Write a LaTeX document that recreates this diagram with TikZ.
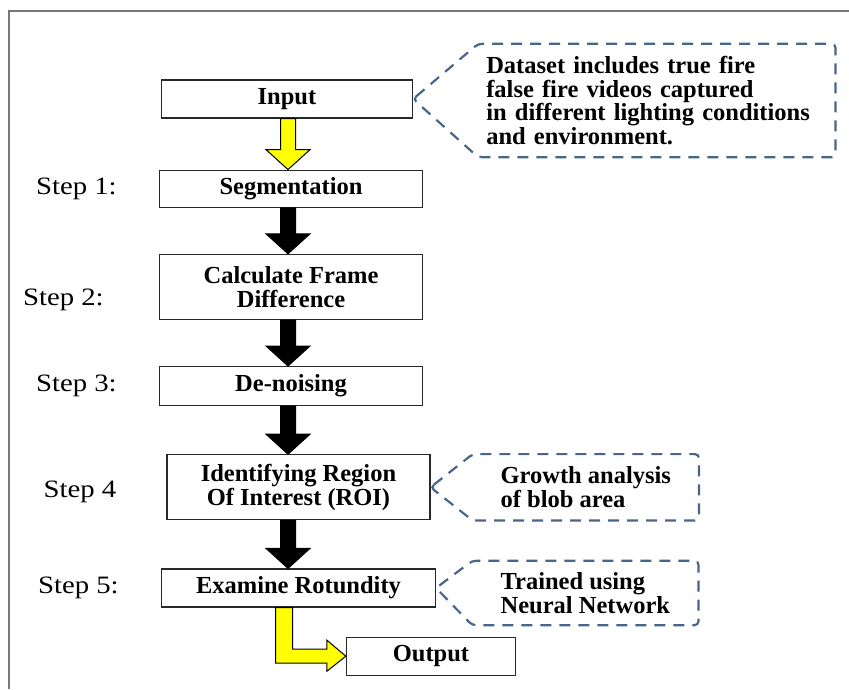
\documentclass[tikz,border=0pt]{standalone}
\usepackage{fontspec}
\setmainfont{Liberation Serif}
\newfontfamily\stepfont[FakeStretch=1.15]{Liberation Serif}
\usetikzlibrary{positioning,calc}
\definecolor{notec}{RGB}{72,102,140}
\definecolor{framec}{RGB}{120,120,120}
\definecolor{boxc}{RGB}{40,40,40}
\definecolor{fireyel}{RGB}{255,255,0}
\tikzset{stage/.style={draw=boxc,line width=1.2pt,minimum width=263pt,minimum height=38pt,align=center,inner sep=2pt,font=\fontsize{24.5}{23.5}\selectfont\bfseries},
  twoline/.style={stage,minimum height=65pt},
  steplbl/.style={inner sep=0pt,font=\stepfont\fontsize{25}{25}\selectfont},
  notebox/.style={minimum height=64pt,minimum width=226pt,align=left,inner sep=0pt,font=\fontsize{24.5}{23.5}\selectfont\bfseries},
  noteline/.style={draw=notec,line width=2.2pt,dash pattern=on 11pt off 8pt,rounded corners=4pt},
  blk/.style={fill=black,draw=black,line width=1pt,line join=miter}}
\newcommand{\stagearrow}[3]{%
  \filldraw[blk,fill=#1] ($(#2.south -| axis)+(-7.5,0)$) -- ($(#3.north -| axis)+(-7.5,-20)$) --
    ($(#3.north -| axis)+(-22,-20)$) -- (#3.north -| axis) -- ($(#3.north -| axis)+(22,-20)$) --
    ($(#3.north -| axis)+(7.5,-20)$) -- ($(#2.south -| axis)+(7.5,0)$) -- cycle;}
\begin{document}
\begin{tikzpicture}[x=1pt,y=-1pt]
\useasboundingbox (0,0) rectangle (849,689);
\draw[framec,line width=1.5pt] (9,689) -- (9,11) -- (849,11);
\coordinate (axis) at (288,0);
% main flow
\node[stage,minimum width=251pt] (input) at (287,99) {Input};
\node[stage,minimum height=37pt,below=51pt of input,xshift=4pt] (seg) {Segmentation};
\node[twoline,below=46pt of seg] (calc) {Calculate Frame\\Difference};
\node[stage,minimum height=39pt,below=46pt of calc] (denoise) {De-noising};
\node[twoline,below=48pt of denoise,xshift=7.5pt] (roi) {Identifying Region\\Of Interest (ROI)};
\node[stage,minimum width=274pt,below=48pt of roi] (exam) {Examine Rotundity};
\node[stage,minimum width=169pt,below=29pt of exam,xshift=132.5pt] (output) {Output};
% step labels
\node[steplbl,left=42pt of seg] (s1) {Step 1:};
\node[steplbl,left=55pt of calc,yshift=-13pt] (s2) {Step 2:};
\node[steplbl,left=42pt of denoise] (s3) {Step 3:};
\node[steplbl,left=50pt of roi,yshift=-5pt] (s4) {Step 4};
\node[steplbl,left=42pt of exam] (s5) {Step 5:};
% notes
\node[notebox,text width=341pt,minimum height=113pt,minimum width=357pt,inner xsep=8pt,right=65pt of input,yshift=-1.5pt] (dsnote) {Dataset includes true fire\\false fire videos captured\\in different lighting conditions\\and environment.};
\node[notebox,minimum height=66pt,right=42pt of roi] (blobnote) {Growth analysis\\of blob area};
\node[notebox,right=36pt of exam,yshift=-5pt] (nnnote) {Trained using\\Neural Network};
\draw[noteline] (input.east) -- (dsnote.north west) -- (dsnote.north east) -- (dsnote.south east) -- (dsnote.south west) -- cycle;
\draw[noteline] (roi.east) -- (blobnote.north west) -- (blobnote.north east) -- (blobnote.south east) -- (blobnote.south west) -- cycle;
\draw[noteline] (exam.east) -- (nnnote.north west) -- (nnnote.north east) -- (nnnote.south east) -- (nnnote.south west) -- cycle;
% arrows
\stagearrow{fireyel}{input}{seg}
\stagearrow{black}{seg}{calc}
\stagearrow{black}{calc}{denoise}
\stagearrow{black}{denoise}{roi}
\stagearrow{black}{roi}{exam}
\filldraw[blk,fill=fireyel] ($(exam.south)+(-23,0)$) |- ($(output.west)+(-19,7)$) -- ++(0,8) -- (output.west) -- ($(output.west)+(-19,-16)$) -- ++(0,9) -| ($(exam.south)+(-6,0)$) -- cycle;
\end{tikzpicture}
\end{document}
